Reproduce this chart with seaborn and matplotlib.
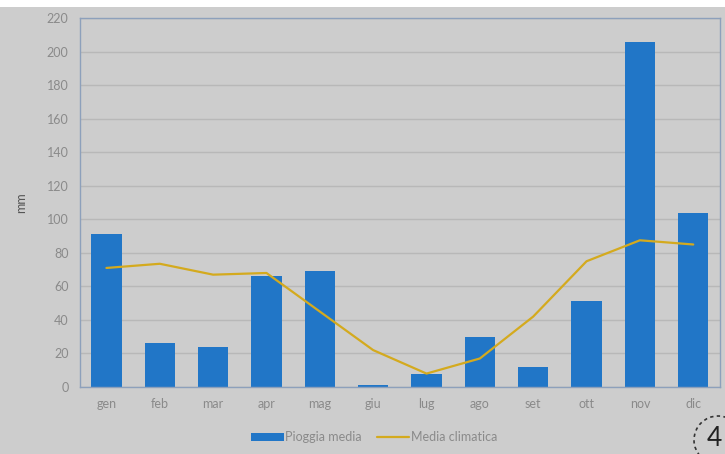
import numpy as np
import pandas as pd
import matplotlib
matplotlib.use("Agg")
import matplotlib.pyplot as plt
import seaborn as sns
from matplotlib.patches import Rectangle, Ellipse

####################################################################################
## data
months = ["gen", "feb", "mar", "apr", "mag", "giu", "lug", "ago", "set", "ott", "nov", "dic"]
pioggia_media = [91, 26, 24, 66, 69, 1, 8, 30, 12, 51, 206, 104]
media_climatica = [71, 73.5, 67, 68, 45, 22, 8, 17, 42, 75, 87.5, 85]
y_ticks = [0, 20, 40, 60, 80, 100, 120, 140, 160, 180, 200, 220]

df = pd.DataFrame({"mese": months, "pioggia": pioggia_media, "clima": media_climatica})
df["pos"] = range(len(df))

####################################################################################
## plot
sns.set_theme(style="white")
plt.rcParams["font.family"] = ["Lato", "DejaVu Sans"]

bg = "#cdcdcd"
bar_col = "#2176c7"
line_col = "#d4aa1e"
txt_col = "#8a8a8a"
spine_col = "#8da0bb"

fig = plt.figure(figsize=(7.25, 4.54), dpi=100, facecolor=bg)
ax = fig.add_axes([0.110, 0.1476, 0.883, 0.8124])
ax.set_facecolor(bg)

# white strip at the very top of the slide
fig.patches.append(Rectangle((0, 0.985), 1, 0.015, transform=fig.transFigure,
                             facecolor="white", edgecolor="none", zorder=0))

ax.yaxis.grid(True, color="#b8b8b8", linewidth=1)
ax.set_axisbelow(True)

sns.barplot(data=df, x="mese", y="pioggia", color=bar_col, width=0.57,
            saturation=1, edgecolor="none", linewidth=0, ax=ax,
            label="Pioggia media", zorder=2)
sns.lineplot(data=df, x="pos", y="clima", color=line_col, linewidth=1.6,
             ax=ax, label="Media climatica", zorder=3)

ax.set_xlim(-0.5, len(months) - 0.5)
ax.set_ylim(0, 220)
ax.set_yticks(y_ticks)
ax.set_xticks(range(len(months)))
ax.set_xticklabels(months)
ax.tick_params(axis="both", length=0, labelsize=9, labelcolor=txt_col, pad=8)
ax.set_xlabel("")
ax.set_ylabel("mm", fontsize=9, color="#555555", labelpad=14)

for s in ax.spines.values():
    s.set_color(spine_col)
    s.set_linewidth(1)

# legend: bars first, then the line
handles, labels = ax.get_legend_handles_labels()
order = [labels.index("Pioggia media"), labels.index("Media climatica")]
ax.legend([handles[i] for i in order], [labels[i] for i in order],
          loc="upper center", bbox_to_anchor=(0.46, -0.09), ncol=2, frameon=False,
          fontsize=9, labelcolor=txt_col, handlelength=2.6, columnspacing=1.2,
          handletextpad=0.1)

# slide number in dashed circle
r = 24
fig.patches.append(Ellipse((718 / 725, 1 - 440 / 454), 2 * r / 725, 2 * r / 454,
                           transform=fig.transFigure, fill=False, edgecolor="#333333",
                           linestyle=(0, (2, 2)), linewidth=1.2))
fig.text(714 / 725, 1 - 438 / 454, "4", fontsize=19, color="#222222",
         ha="center", va="center")

plt.savefig("out.png", dpi=100, facecolor=bg)
